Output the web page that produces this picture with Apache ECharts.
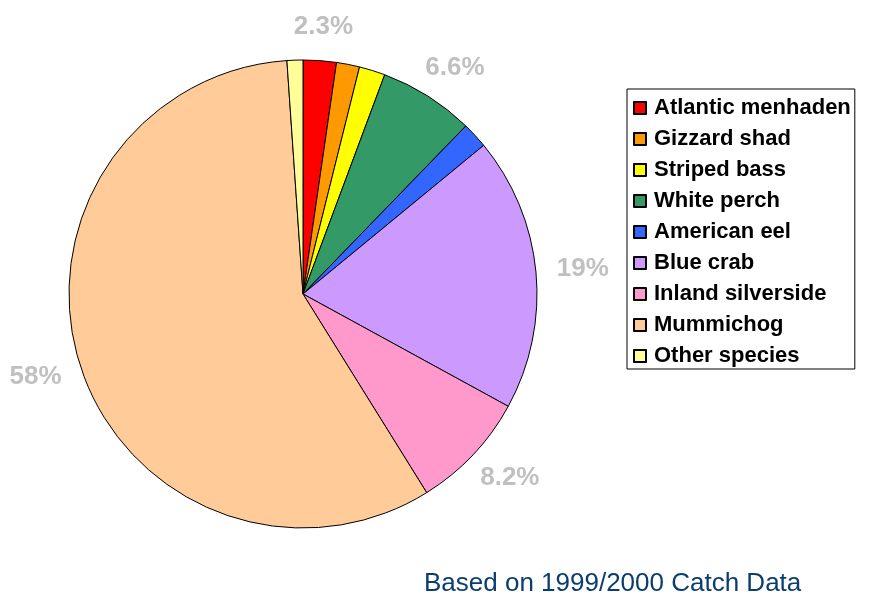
<!DOCTYPE html>
<html>
<head>
<meta charset="utf-8">
<script src="https://cdn.jsdelivr.net/npm/echarts@6/dist/echarts.min.js"></script>
<style>html,body{margin:0;padding:0;background:#fff;}#c{width:882px;height:610px;}</style>
</head>
<body>
<div id="c"></div>
<script>
var species = ['Atlantic menhaden','Gizzard shad','Striped bass','White perch','American eel','Blue crab','Inland silverside','Mummichog','Other species'];
var shares = [2.3, 1.6, 1.8, 6.6, 1.8, 19, 8.2, 58, 1.1];
var colors = ['#FF0000','#FF9900','#FFFF00','#339966','#3366FF','#CC99FF','#FF99CC','#FFCC99','#FFFF99'];
var footnote = 'Based on 1999/2000 Catch Data';

var chart = echarts.init(document.getElementById('c'), null, {renderer:'canvas'});
var font = '"Liberation Sans", Arial, sans-serif';

function labelLayout(params) {
  try {
    var data = chart.getModel().getSeriesByIndex(0).getData();
    var L = data.getItemLayout(params.dataIndex);
    var mid = (L.startAngle + L.endAngle) / 2;
    var ux = Math.cos(mid), uy = Math.sin(mid);
    var rr = L.r + 21;
    var w = params.labelRect.width, h = params.labelRect.height;
    return {
      x: L.cx + rr * ux + ux * w / 2,
      y: L.cy + rr * uy + uy * h / 2,
      align: 'center',
      verticalAlign: 'middle'
    };
  } catch (e) { return {}; }
}

chart.setOption({
  animation: false,
  backgroundColor: '#fff',
  title: {
    text: footnote,
    left: 419, top: 566,
    textStyle: {fontFamily: font, fontSize: 26, fontWeight: 'normal', color: '#0B3D6F'}
  },
  legend: {
    orient: 'vertical',
    left: 627, top: 89,
    padding: [8, 4, 2, 6],
    borderColor: '#000', borderWidth: 1,
    itemWidth: 12, itemHeight: 12, itemGap: 9,
    icon: 'rect',
    textStyle: {fontFamily: font, fontSize: 22, fontWeight: 'bold', color: '#000', padding: [0,0,0,3]},
    data: species
  },
  series: [{
    type: 'pie',
    center: [303, 294],
    radius: 234,
    startAngle: 90,
    clockwise: true,
    avoidLabelOverlap: false,
    itemStyle: {borderColor: '#000', borderWidth: 1},
    label: {
      show: true, position: 'outside',
      formatter: function (p) { return p.value >= 2 ? p.value + '%' : ''; },
      fontFamily: font, fontSize: 26, fontWeight: 'bold', color: '#C0C0C0'
    },
    labelLine: {show: false},
    labelLayout: labelLayout,
    emphasis: {disabled: true},
    data: species.map(function (n, i) {
      return {name: n, value: shares[i], itemStyle: {color: colors[i]}};
    })
  }]
});
</script>
</body>
</html>
